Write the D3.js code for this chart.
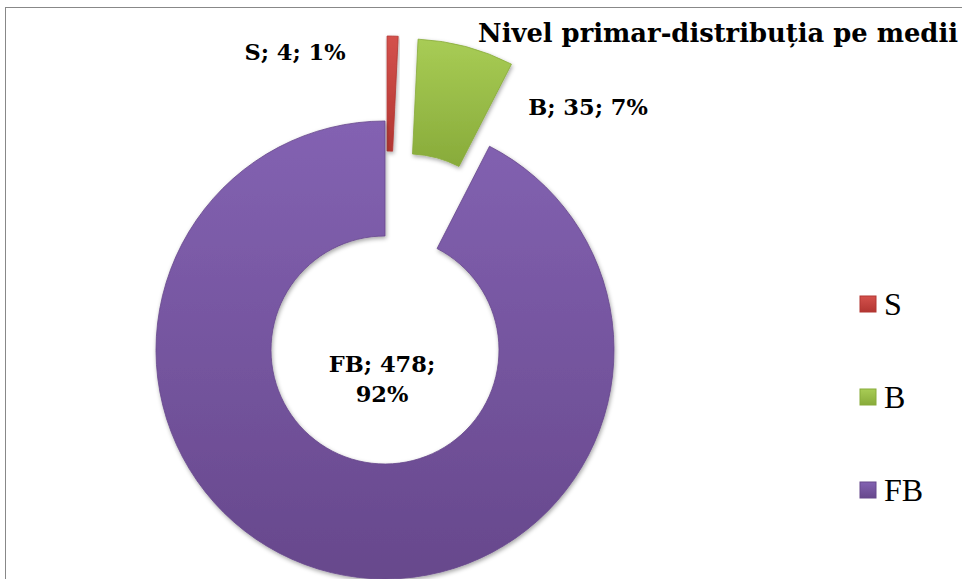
<!DOCTYPE html>
<html><head><meta charset="utf-8">
<script src="https://cdn.jsdelivr.net/npm/d3@7"></script>
<style>body{margin:0;background:#fff}svg{display:block}</style>
</head><body>
<svg id="chart" width="962" height="579"></svg>
<script>
// ---- data ----
const categories = ["S", "B", "FB"];
const counts = [4, 35, 478];
const title = "Nivel primar-distribuția pe medii";

// ---- layout ----
const W = 962, H = 579;
const cx = 385, cy = 350, rOuter = 229, rInner = 114;
const explode = {S: 85, B: 85, FB: 0};
const colors = {
  S:  ["#d4514c", "#b23632"],
  B:  ["#a8cc55", "#88ab3a"],
  FB: ["#8362b2", "#67488c"]
};
const labelFont = "Georgia, 'DejaVu Serif', serif";
const legendFont = "'Liberation Serif', 'Times New Roman', serif";

const svg = d3.select("#chart");
const defs = svg.append("defs");

categories.forEach(c => {
  const g = defs.append("linearGradient").attr("id", "g" + c)
    .attr("x1", 0).attr("y1", 0).attr("x2", 0).attr("y2", 1);
  g.append("stop").attr("offset", "0%").attr("stop-color", colors[c][0]);
  g.append("stop").attr("offset", "100%").attr("stop-color", colors[c][1]);
});
const f = defs.append("filter").attr("id", "shadow")
  .attr("x", "-10%").attr("y", "-10%").attr("width", "120%").attr("height", "120%");
f.append("feDropShadow").attr("dx", 1).attr("dy", 2).attr("stdDeviation", 2)
  .attr("flood-color", "#000").attr("flood-opacity", 0.35);

// border
svg.append("rect").attr("x", 5.5).attr("y", 7.5).attr("width", W + 20).attr("height", H + 20)
  .attr("fill", "none").attr("stroke", "#888").attr("stroke-width", 1);

const data = categories.map((c, i) => ({cat: c, value: counts[i]}));
const total = d3.sum(counts);
const pie = d3.pie().sort(null).value(d => d.value);
const arcs = pie(data);
const arc = d3.arc().innerRadius(rInner).outerRadius(rOuter);

const g = svg.append("g").attr("transform", `translate(${cx},${cy})`);
g.selectAll("path.slice").data(arcs).join("path")
  .attr("class", "slice")
  .attr("d", arc)
  .attr("transform", d => {
    const a = (d.startAngle + d.endAngle) / 2;
    const e = explode[d.data.cat];
    return `translate(${e * Math.sin(a)},${-e * Math.cos(a)})`;
  })
  .attr("fill", d => `url(#g${d.data.cat})`)
  .attr("stroke", d => colors[d.data.cat][1])
  .attr("stroke-width", 0.8)
  .attr("filter", "url(#shadow)");

// labels
const pct = d => Math.round(d.value / total * 100) + "%";
const labelPos = {S: [295, 60], B: [588, 115]};
arcs.forEach(d => {
  const c = d.data.cat;
  if (labelPos[c]) {
    svg.append("text").attr("x", labelPos[c][0]).attr("y", labelPos[c][1])
      .attr("text-anchor", "middle").attr("font-family", labelFont)
      .attr("font-weight", "bold").attr("font-size", 22.5).attr("fill", "#000")
      .text(`${c}; ${d.data.value}; ${pct(d.data)}`);
  } else {
    const t = svg.append("text").attr("text-anchor", "middle").attr("font-family", labelFont)
      .attr("font-weight", "bold").attr("font-size", 22.5).attr("fill", "#000");
    t.append("tspan").attr("x", 382).attr("y", 372).text(`${c}; ${d.data.value};`);
    t.append("tspan").attr("x", 382).attr("y", 402).text(pct(d.data));
  }
});

// title
svg.append("text").attr("x", 958).attr("y", 42).attr("text-anchor", "end")
  .attr("font-family", labelFont).attr("font-weight", "bold").attr("font-size", 25.8)
  .attr("fill", "#000").text(title);

// legend
const legendY = d3.scalePoint().domain(categories).range([304, 490]);
const lg = svg.append("g");
categories.forEach(c => {
  lg.append("rect").attr("x", 860).attr("y", legendY(c) - 8).attr("width", 16).attr("height", 16)
    .attr("fill", `url(#g${c})`).attr("stroke", colors[c][1]).attr("stroke-width", 1);
  lg.append("text").attr("x", 884).attr("y", legendY(c) + 11)
    .attr("font-family", legendFont).attr("font-size", 32).attr("fill", "#000").text(c);
});
</script>
</body></html>
